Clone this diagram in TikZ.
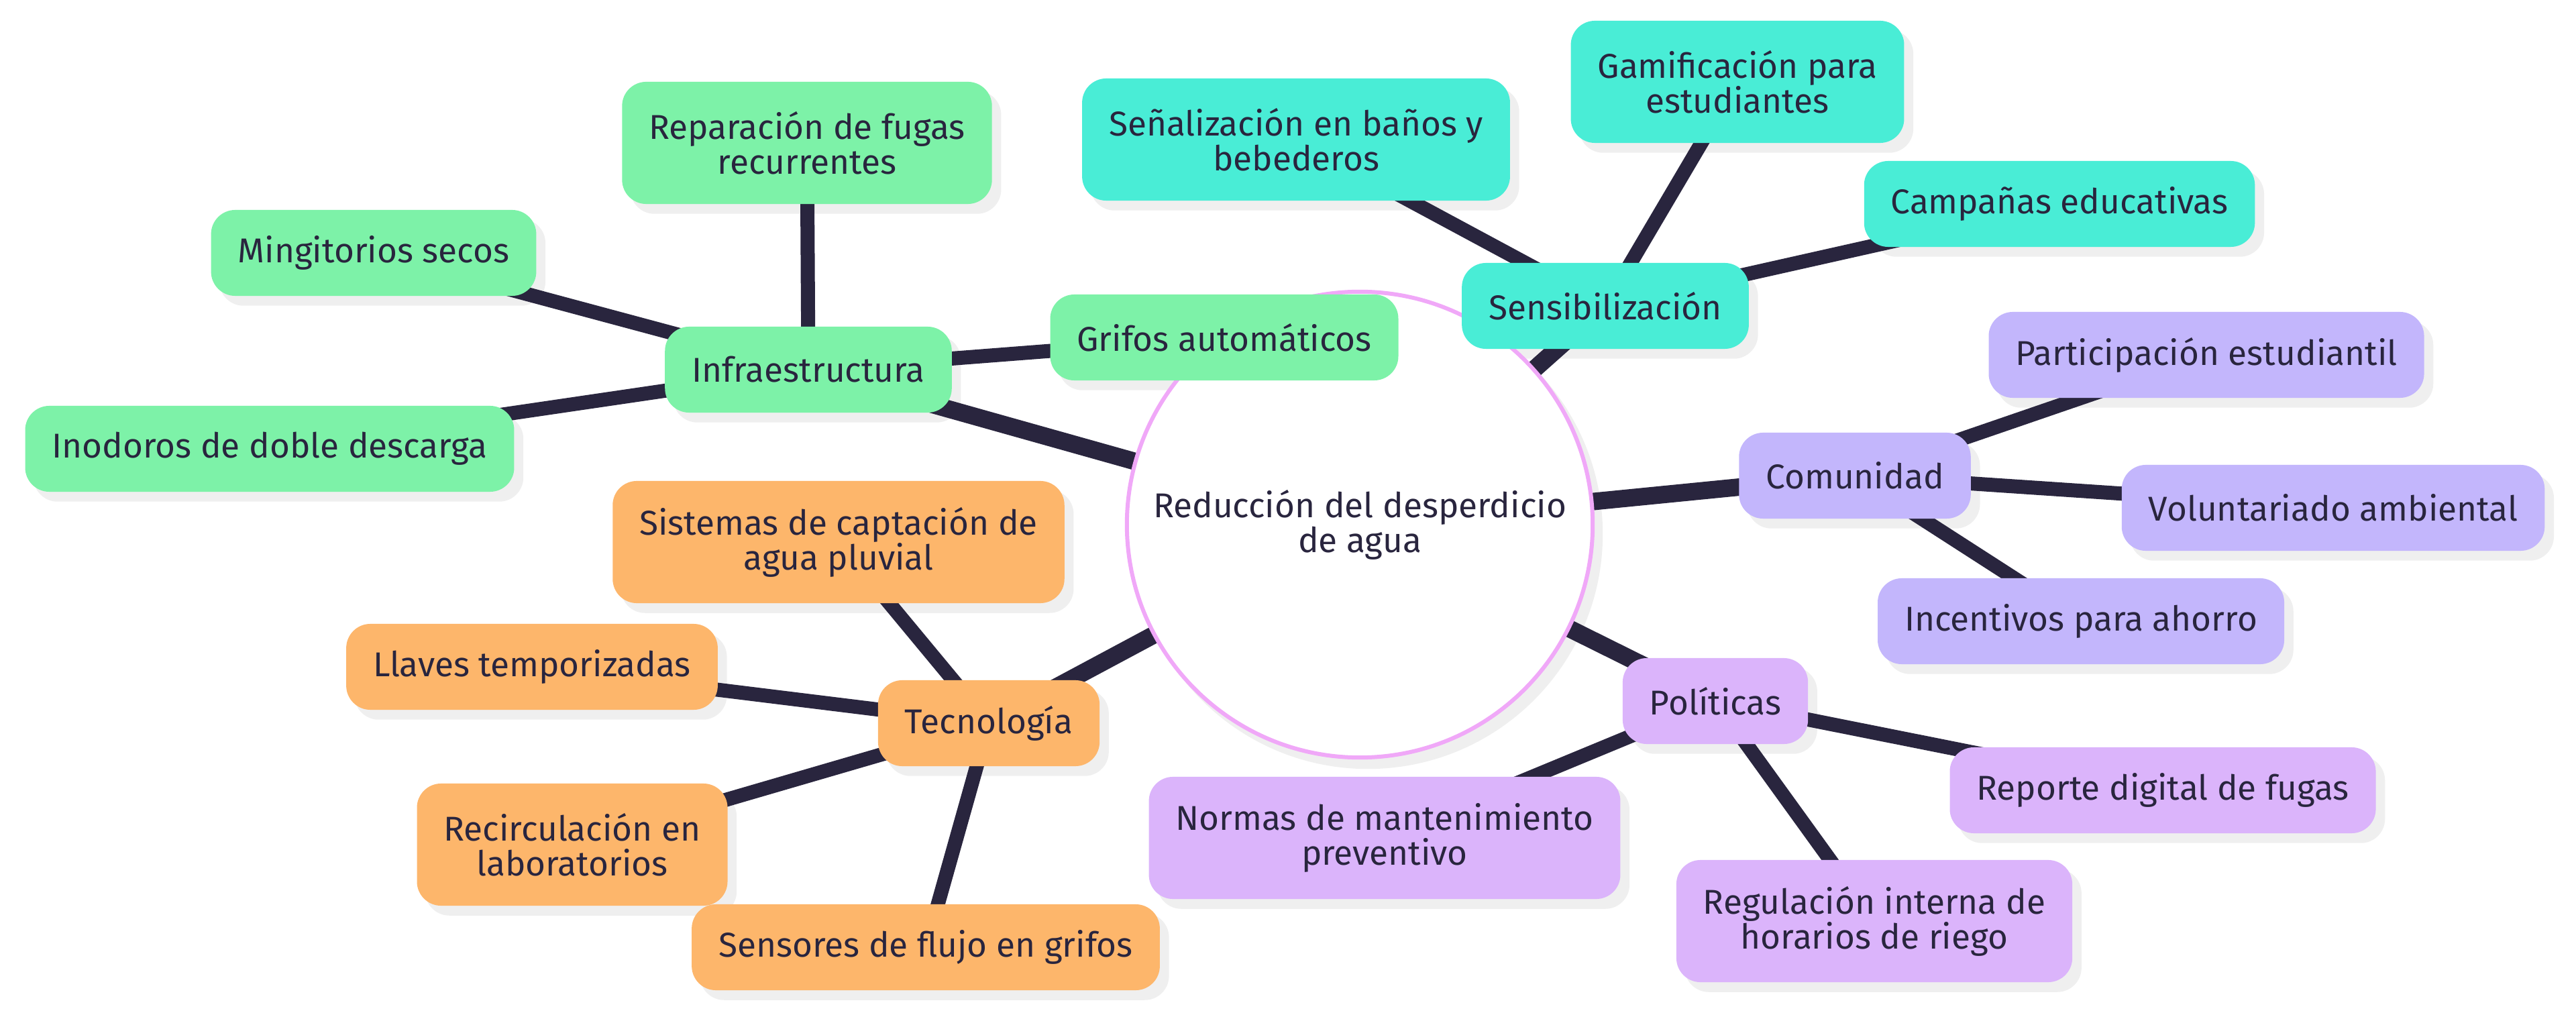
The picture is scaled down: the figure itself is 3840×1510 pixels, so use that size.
\documentclass[tikz,border=0pt]{standalone}
\usepackage{fontspec}
\setmainfont{Fira Sans}
\usetikzlibrary{positioning}

\definecolor{inkdark}{HTML}{29253E}
\definecolor{rootpink}{HTML}{F0A8F8}
\definecolor{shadowgray}{HTML}{EFEFEF}
\definecolor{infragreen}{HTML}{7DF2A8}
\definecolor{sensiteal}{HTML}{49EDD6}
\definecolor{comuviolet}{HTML}{C3B6FC}
\definecolor{politlilac}{HTML}{DBB4FB}
\definecolor{tecnoorange}{HTML}{FDB66B}

\pgfdeclarelayer{shadowlayer}
\pgfdeclarelayer{edgelayer}
\pgfsetlayers{shadowlayer,edgelayer,main}

\tikzset{
  topic/.style={rounded corners=0.36cm, inner xsep=0.4cm, minimum height=1.28cm,
    align=center, text=inkdark, font=\fontsize{14.6}{14.8}\selectfont},
  tall/.style={minimum height=1.82cm},
  infra/.style={topic, fill=infragreen},
  sensi/.style={topic, fill=sensiteal},
  comu/.style={topic, fill=comuviolet},
  polit/.style={topic, fill=politlilac},
  tecno/.style={topic, fill=tecnoorange},
  rootedge/.style={draw=inkdark, line width=0.26cm},
  subedge/.style={draw=inkdark, line width=0.21cm},
}

\begin{document}
\begin{tikzpicture}[x=0.01cm, y=-0.01cm]
  \useasboundingbox (0,0) rectangle (3840,1510);

  \node[circle, draw=rootpink, line width=0.06cm, fill=white, minimum size=6.94cm,
    align=center, text=inkdark, font=\fontsize{14.6}{14.8}\selectfont]
    (root) at (2027,782) {Reducción del desperdicio\\de agua};

  \node[infra] (infra) at (1205,551) {Infraestructura};
  \node[infra] (mingi) at (557,377) {Mingitorios secos};
  \node[infra] (inodoros) at (402,669) {Inodoros de doble descarga};
  \node[infra, tall] (fugas) at (1203,213) {Reparación de fugas\\recurrentes};
  \node[infra] (grifos) at (1825,503) {Grifos automáticos};

  \node[sensi] (sensib) at (2393,456) {Sensibilización};
  \node[sensi, tall] (senal) at (1932,208) {Señalización en baños y\\bebederos};
  \node[sensi, tall] (gamif) at (2590,122) {Gamificación para\\estudiantes};
  \node[sensi] (campanas) at (3070,304) {Campañas educativas};

  \node[comu] (comun) at (2765,709) {Comunidad};
  \node[comu] (partic) at (3289,529) {Participación estudiantil};
  \node[comu] (volunt) at (3478,757) {Voluntariado ambiental};
  \node[comu] (incent) at (3102,926) {Incentivos para ahorro};

  \node[polit] (polits) at (2557,1045) {Políticas};
  \node[polit] (reporte) at (3224,1178) {Reporte digital de fugas};
  \node[polit, tall] (normas) at (2064,1249) {Normas de mantenimiento\\preventivo};
  \node[polit, tall] (regul) at (2794,1373) {Regulación interna de\\horarios de riego};

  \node[tecno] (tecnol) at (1474,1078) {Tecnología};
  \node[tecno, tall] (captacion) at (1250,808) {Sistemas de captación de\\agua pluvial};
  \node[tecno] (llaves) at (793,994) {Llaves temporizadas};
  \node[tecno, tall] (recirc) at (853,1259) {Recirculación en\\laboratorios};
  \node[tecno] (sensores) at (1380,1412) {Sensores de flujo en grifos};

  \begin{pgfonlayer}{edgelayer}
    \foreach \b in {infra,sensib,comun,polits,tecnol} {
      \draw[rootedge] (root.center) -- (\b.center);
    }
    \foreach \p/\c in {infra/mingi,infra/inodoros,infra/fugas,infra/grifos,
                       sensib/senal,sensib/gamif,sensib/campanas,
                       comun/partic,comun/volunt,comun/incent,
                       polits/reporte,polits/normas,polits/regul,
                       tecnol/captacion,tecnol/llaves,tecnol/recirc,tecnol/sensores} {
      \draw[subedge] (\p.center) -- (\c.center);
    }
  \end{pgfonlayer}

  \begin{pgfonlayer}{shadowlayer}
    \fill[shadowgray] ([shift={(12,14)}]root.center) circle (3.5cm);
    \foreach \n in {infra,mingi,inodoros,fugas,grifos,sensib,senal,gamif,campanas,
                    comun,partic,volunt,incent,polits,reporte,normas,regul,
                    tecnol,captacion,llaves,recirc,sensores} {
      \fill[shadowgray, rounded corners=0.36cm]
        ([shift={(13,14)}]\n.south west) rectangle ([shift={(13,14)}]\n.north east);
    }
  \end{pgfonlayer}
\end{tikzpicture}
\end{document}
